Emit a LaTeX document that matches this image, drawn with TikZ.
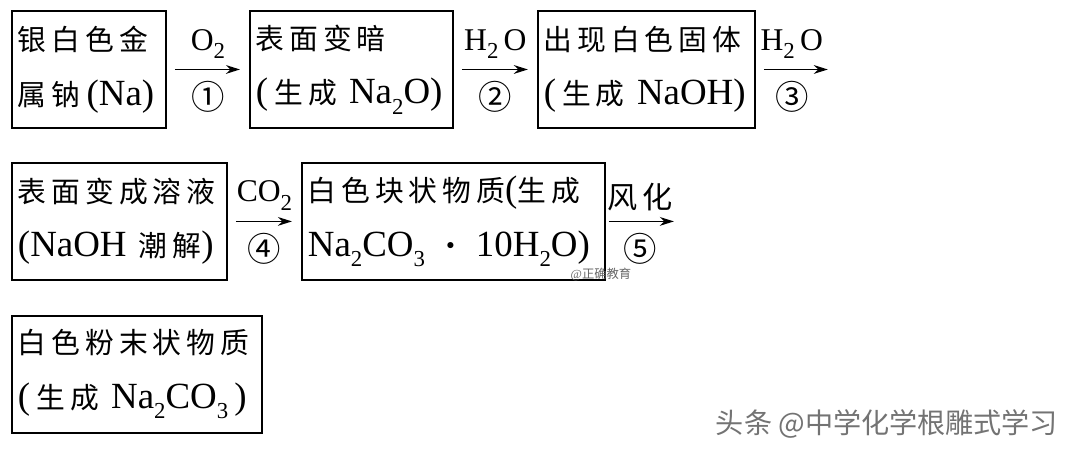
\documentclass[tikz,border=0pt]{standalone}
\usepackage{fontspec}
\usepackage{tikz}
\usetikzlibrary{arrows.meta, positioning}

\setmainfont{Liberation Serif}
\newfontfamily\cjk[Scale=0.78, LetterSpace=17]{Noto Sans CJK SC}
\newfontfamily\cjkmark{Noto Sans CJK SC}
\newcommand{\zh}[1]{{\cjk #1}}
\newcommand{\low}[1]{\raisebox{-0.28em}{\fontsize{13}{13}\selectfont #1}}

\begin{document}
\begin{tikzpicture}[shorten >=0.18cm, shorten <=0.16cm,
    stage/.style={rectangle, draw, line width=1.1pt, minimum height=2.34cm, inner xsep=0.12cm,
        align=left, anchor=north west, font=\fontsize{21}{31}\selectfont},
    flow/.style={-{Stealth[length=8pt, width=5pt]}, line width=0.8pt},
    reagent/.style={above=0.08cm, font=\fontsize{18}{18}\selectfont},
    stepno/.style={below=0.1cm, font=\fontsize{19}{19}\selectfont}]

    \useasboundingbox (0,0) rectangle (21.34,-9.02);

    \node[stage, text width=2.84cm] (na) at (0.22,-0.2) {\zh{银白色金}\\\zh{属钠}\,(Na)\,};

    \node[stage, text width=3.82cm, right=1.64cm of na.north east, anchor=north west] (dark)
        {\zh{表面变暗}\\(\,\zh{生成}~Na\low{2}O)};

    \node[stage, text width=4.1cm, right=1.66cm of dark.north east, anchor=north west] (solid)
        {\zh{出现白色固体}\\(\,\zh{生成}~NaOH)};

    \node[stage, text width=4.06cm, below=0.66cm of na.south west, anchor=north west] (soln)
        {\zh{表面变成溶液}\\(NaOH~\zh{潮解})};

    \node[stage, text width=5.82cm, right=1.46cm of soln.north east, anchor=north west] (crystal)
        {\zh{白色块状物质}(\zh{生成}\\Na\low{2}CO\low{3}\hspace{0.3em}\zh{・}\hspace{0.3em}10H\low{2}O)};

    \node[stage, text width=4.76cm, below=0.68cm of soln.south west, anchor=north west] (powder)
        {\zh{白色粉末状物质}\\(\,\zh{生成}~Na\low{2}CO\low{3}\,)};

    \coordinate[right=1.44cm of solid.east] (next1);
    \coordinate[right=1.36cm of crystal.east] (next2);

    \path[flow]
    (na) edge node[reagent] {O\low{2}} node[stepno] {\cjkmark ①} (dark)
    (dark) edge node[reagent] {H\low{2}\,O} node[stepno] {\cjkmark ②} (solid)
    (solid) edge[shorten >=0pt] node[reagent] {H\low{2}\,O} node[stepno] {\cjkmark ③} (next1)
    (soln) edge node[reagent] {CO\low{2}} node[stepno] {\cjkmark ④} (crystal)
    (crystal) edge[shorten >=0pt, shorten <=0.06cm] node[reagent, font=\fontsize{22}{22}\selectfont] {\zh{风化}} node[stepno] {\cjkmark ⑤} (next2);

    % watermarks
    \node[text=black!60, font=\fontsize{7}{7}\selectfont] (mark) at (12.02,-5.48) {@\cjkmark 正确教育};
    \node[text=black!55, font=\fontsize{16}{16}\selectfont] (credit) at (17.74,-8.48) {\cjkmark 头条 @中学化学根雕式学习};

\end{tikzpicture}
\end{document}
